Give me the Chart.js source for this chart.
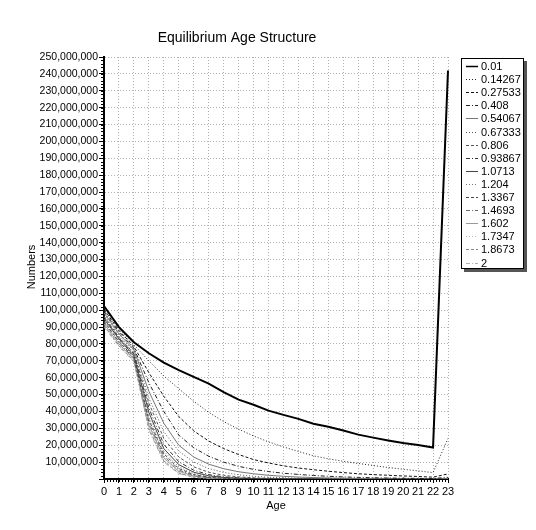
<!DOCTYPE html>
<html>
<head>
<meta charset="utf-8">
<script src="https://cdn.jsdelivr.net/npm/chart.js@4"></script>
<style>
  html, body { margin: 0; padding: 0; background: #fff; }
  #wrap { width: 536px; height: 530px; position: relative; }
</style>
</head>
<body>
<div id="wrap"><canvas id="ageChart" width="536" height="530"></canvas></div>
<script>
// ages on the x axis
var ages = [0, 1, 2, 3, 4, 5, 6, 7, 8, 9, 10, 11, 12, 13, 14, 15, 16, 17, 18, 19, 20, 21, 22, 23];

// legend labels (one per run)
var runLabels = ["0.01", "0.14267", "0.27533", "0.408", "0.54067", "0.67333", "0.806", "0.93867",
                 "1.0713", "1.204", "1.3367", "1.4693", "1.602", "1.7347", "1.8673", "2"];

// numbers at age, in millions
var run01 = [102.5, 90, 81, 74.5, 69, 64.5, 60.5, 56.5, 51.5, 47, 44, 40.5, 38, 35.6, 32.7, 31, 28.7, 26.3, 24.5, 22.8, 21.3, 20.2, 18.6, 242];
var run02 = [101.5, 89, 79.5, 70, 61, 53.5, 46, 39.5, 34, 29.5, 25.5, 22, 19, 16.3, 13.7, 12, 10.5, 9.2, 8, 6.8, 5.8, 4.8, 3.8, 24];
var run03 = [100.5, 88, 78.5, 63, 49, 37, 28.5, 22.5, 18, 14.5, 11.5, 9.5, 7.8, 6.5, 5.5, 4.6, 3.8, 3.1, 2.6, 2.2, 1.8, 1.5, 1.1, 3];
var run04 = [99.5, 87, 77.5, 57, 40, 26, 18.5, 13.5, 10, 7.5, 5.7, 4.4, 3.4, 2.7, 2.1, 1.6, 1.25, 0.95, 0.75, 0.6, 0.45, 0.35, 0.3, 1];
var run05 = [98.5, 86, 76.5, 52, 33, 20, 13, 8.8, 6.1, 4.3, 3.1, 2.2, 1.6, 1.15, 0.85, 0.6, 0.45, 0.33, 0.24, 0.18, 0.13, 0.1, 0.08, 0.3];
var run06 = [97.5, 85, 75.5, 48, 28, 16.5, 10, 6.2, 3.9, 2.5, 1.6, 1.05, 0.7, 0.46, 0.3, 0.2, 0.14, 0.1, 0.07, 0.05, 0.04, 0.03, 0.02, 0.1];
var run07 = [96.5, 84, 74.5, 45, 24, 13, 7.2, 4, 2.2, 1.25, 0.7, 0.4, 0.24, 0.14, 0.08, 0.05, 0.03, 0.02, 0.01, 0.01, 0, 0, 0, 0.02];
var run08 = [96, 83.5, 74, 42, 20.5, 10.2, 5.2, 2.6, 1.3, 0.66, 0.33, 0.17, 0.09, 0.05, 0.03, 0.02, 0.01, 0, 0, 0, 0, 0, 0, 0];
var run09 = [95, 83, 73, 39.5, 18, 8.5, 4, 1.9, 0.9, 0.45, 0.2, 0.1, 0.05, 0.03, 0.01, 0, 0, 0, 0, 0, 0, 0, 0, 0];
var run10 = [94.5, 82.5, 72.5, 37, 16.5, 7.2, 3.2, 1.4, 0.6, 0.27, 0.12, 0.05, 0.02, 0.01, 0, 0, 0, 0, 0, 0, 0, 0, 0, 0];
var run11 = [93.5, 81.5, 72, 35, 15, 6.2, 2.6, 1.05, 0.43, 0.18, 0.07, 0.03, 0.01, 0, 0, 0, 0, 0, 0, 0, 0, 0, 0, 0];
var run12 = [93, 81, 71.5, 33.5, 13.7, 5.3, 2.1, 0.8, 0.3, 0.12, 0.05, 0.02, 0.01, 0, 0, 0, 0, 0, 0, 0, 0, 0, 0, 0];
var run13 = [92, 80, 71, 32, 12.5, 4.6, 1.7, 0.6, 0.22, 0.08, 0.03, 0.01, 0, 0, 0, 0, 0, 0, 0, 0, 0, 0, 0, 0];
var run14 = [91.5, 79.5, 70.5, 31, 11.5, 4, 1.4, 0.47, 0.16, 0.05, 0.02, 0.01, 0, 0, 0, 0, 0, 0, 0, 0, 0, 0, 0, 0];
var run15 = [91, 79, 70, 30, 10.7, 3.5, 1.15, 0.37, 0.12, 0.04, 0.01, 0, 0, 0, 0, 0, 0, 0, 0, 0, 0, 0, 0, 0];
var run16 = [90, 78.5, 69.5, 29, 10, 3.1, 0.95, 0.29, 0.09, 0.03, 0.01, 0, 0, 0, 0, 0, 0, 0, 0, 0, 0, 0, 0, 0];

var runValues = [run01, run02, run03, run04, run05, run06, run07, run08,
                 run09, run10, run11, run12, run13, run14, run15, run16];

// line looks: solid, dotted, dashed, dash-dot, getting lighter
var lineColors = ["#000000", "#222222", "#111111", "#222222", "#777777", "#555555", "#555555", "#333333",
                  "#444444", "#777777", "#444444", "#666666", "#999999", "#bbbbbb", "#888888", "#b0b0b0"];
var dashKinds = [[], [1, 2], [3, 2], [4, 2, 1, 2]];

var FONT = "'Liberation Sans', Arial, sans-serif";

var datasets = runValues.map(function (vals, i) {
    return {
        label: runLabels[i],
        data: vals.map(function (v) { return v * 1000000; }),
        borderColor: lineColors[i],
        borderWidth: i === 0 ? 2 : 1,
        borderDash: dashKinds[i % 4],
        pointRadius: 0,
        fill: false,
        tension: 0
    };
});

// title, axis names, minor ticks and the boxed legend
var extrasPlugin = {
    id: "extras",
    afterDraw: function (chart) {
        var ctx = chart.ctx;
        var area = chart.chartArea;
        var xs = chart.scales.x, ys = chart.scales.y;
        ctx.save();

        // minor ticks
        ctx.strokeStyle = "#000";
        ctx.lineWidth = 1;
        ctx.beginPath();
        for (var v = 0; v <= 250000000; v += 2000000) {
            var py = Math.round(ys.getPixelForValue(v)) + 0.5;
            ctx.moveTo(area.left - 3, py);
            ctx.lineTo(area.left, py);
        }
        for (var u = 0; u <= 23.001; u += 0.2) {
            var px = Math.round(xs.getPixelForValue(u)) + 0.5;
            ctx.moveTo(px, area.bottom);
            ctx.lineTo(px, area.bottom + 3);
        }
        ctx.stroke();

        // title
        ctx.fillStyle = "#000";
        ctx.textAlign = "center";
        ctx.textBaseline = "middle";
        ctx.font = "14px " + FONT;
        ctx.fillText("Equilibrium Age Structure", 237, 38);

        // axis names
        ctx.font = "11px " + FONT;
        ctx.fillText("Age", (area.left + area.right) / 2, 506);
        ctx.save();
        ctx.translate(32, 267);
        ctx.rotate(-Math.PI / 2);
        ctx.fillText("Numbers", 0, 0);
        ctx.restore();

        // legend box with shadow
        var bx = 461, by = 58, bw = 63, bh = 211;
        ctx.fillStyle = "#555";
        ctx.fillRect(bx + 3, by + 3, bw, bh);
        ctx.fillStyle = "#fff";
        ctx.fillRect(bx, by, bw, bh);
        ctx.strokeStyle = "#000";
        ctx.lineWidth = 1;
        ctx.strokeRect(bx + 0.5, by + 0.5, bw - 1, bh - 1);

        ctx.textAlign = "left";
        ctx.font = "11px " + FONT;
        chart.data.datasets.forEach(function (ds, i) {
            var ly = Math.round(by + 8 + i * 13.1) + 0.5;
            ctx.beginPath();
            ctx.setLineDash(ds.borderDash);
            ctx.strokeStyle = ds.borderColor;
            ctx.lineWidth = ds.borderWidth === 2 ? 1.5 : 1;
            ctx.moveTo(bx + 5, ly);
            ctx.lineTo(bx + 17, ly);
            ctx.stroke();
            ctx.setLineDash([]);
            ctx.fillStyle = "#000";
            ctx.fillText(ds.label, bx + 20, ly);
        });
        ctx.restore();
    }
};

var ctx = document.getElementById("ageChart").getContext("2d");
var ageChart = new Chart(ctx, {
    type: "line",
    data: { labels: ages, datasets: datasets },
    options: {
        responsive: false,
        animation: false,
        layout: { padding: { top: 57, right: 88, left: 0, bottom: 0 } },
        scales: {
            x: {
                type: "category",
                offset: false,
                afterFit: function (scale) { scale.height = 51; },
                grid: { color: "#b0b0b0", tickColor: "#000", tickLength: 4, tickBorderDash: [] },
                border: { display: true, color: "#000", width: 2, dash: [1, 2] },
                ticks: { color: "#000", font: { family: FONT, size: 11 }, padding: 2, maxRotation: 0, autoSkip: false }
            },
            y: {
                min: 0,
                max: 250000000,
                afterFit: function (scale) { scale.width = 104; },
                grid: { color: "#b0b0b0", tickColor: "#000", tickLength: 5, tickBorderDash: [] },
                border: { display: true, color: "#000", width: 2, dash: [1, 2] },
                ticks: {
                    stepSize: 10000000,
                    color: "#000",
                    padding: 1,
                    font: { family: FONT, size: 10.5 },
                    callback: function (v) { return v === 0 ? "" : v.toLocaleString("en-US"); }
                }
            }
        },
        plugins: {
            legend: { display: false },
            title: { display: false },
            tooltip: { enabled: false }
        }
    },
    plugins: [extrasPlugin]
});
</script>
</body>
</html>
